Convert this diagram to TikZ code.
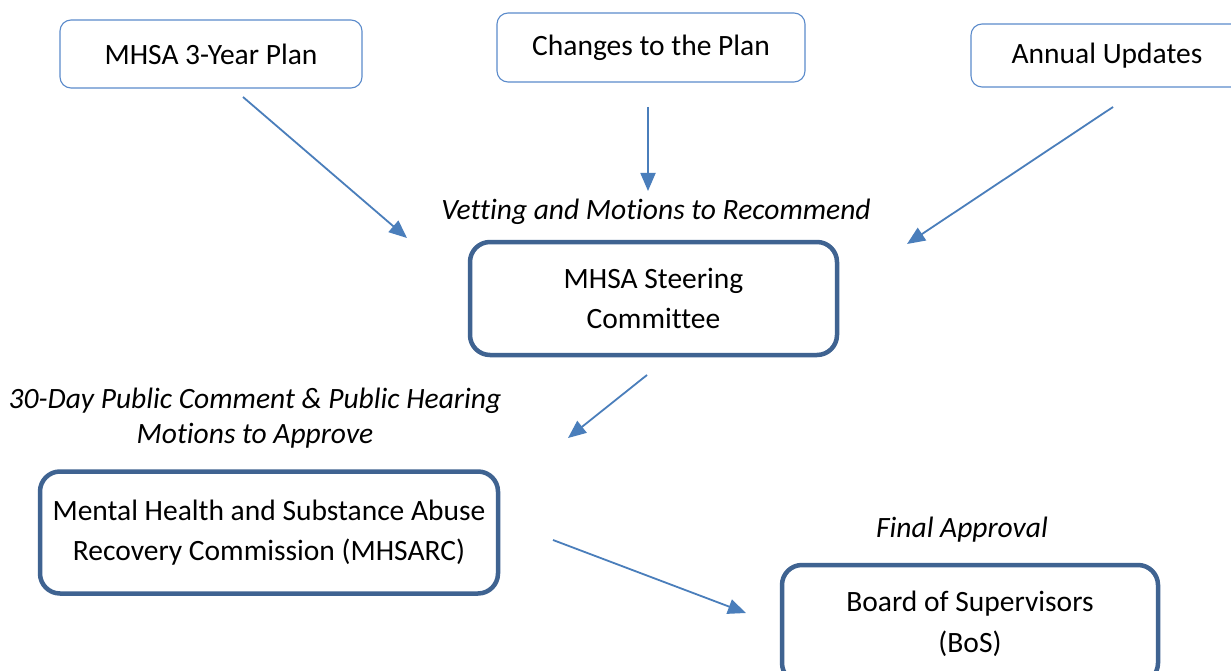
\documentclass[tikz,border=0pt]{standalone}
\usepackage{fontspec}
\setmainfont{Carlito}[Ligatures=NoCommon]
\usetikzlibrary{arrows.meta}
\definecolor{thinblue}{HTML}{5B8BCB}
\definecolor{thickblue}{HTML}{3F6391}
\definecolor{arrowblue}{HTML}{4A7EBB}
\tikzset{
  thinbox/.style={draw=thinblue, line width=1.1pt, rounded corners=11pt, fill=white,
    inner sep=0pt, align=center, font=\fontsize{29.5}{40}\selectfont},
  thickbox/.style={draw=thickblue, line width=4.5pt, rounded corners=20pt, fill=white,
    inner sep=0pt, align=center, font=\fontsize{29.5}{40.5}\selectfont},
  lbl/.style={inner sep=0pt, align=center, font=\fontsize{29.5}{35}\selectfont\itshape},
  conn/.style={draw=arrowblue, line width=1.8pt, -{Triangle[length=18pt,width=15pt]}}
}
\begin{document}
\begin{tikzpicture}[x=1pt,y=-1pt]
\useasboundingbox (0,0) rectangle (1231,671);
\clip (0,0) rectangle (1231,671);
\fill[white] (0,0) rectangle (1231,671);
% top boxes
\node[thinbox, minimum width=302pt, minimum height=68pt] (plan) at (211,54) {MHSA 3-Year Plan};
\node[thinbox, minimum width=308pt, minimum height=69pt] (changes) at (651,47.5) {Changes to the Plan};
\node[thinbox, minimum width=272pt, minimum height=63pt] (annual) at (1107,55.5) {Annual Updates};
% main boxes
\node[thickbox, minimum width=367pt, minimum height=113pt] (steer) at (653.5,298.5) {MHSA Steering\\Committee};
\node[thickbox, minimum width=458pt, minimum height=122pt] (mhsarc) at (269,532.5) {Mental Health and Substance Abuse\\Recovery Commission (MHSARC)};
\node[thickbox, minimum width=376pt, minimum height=118pt] (bos) at (970,624) {Board of Supervisors\\(BoS)};
% labels
\node[lbl] (vet) at (656,212) {Vetting and Motions to Recommend};
\node[lbl] (pub) at (255,418) {30-Day Public Comment \& Public Hearing\\Motions to Approve};
\node[lbl] (fin) at (962,530) {Final Approval};
% connector ends
\coordinate (a1s) at (243,97);  \coordinate (a1e) at (407,238);
\coordinate (a2s) at (648,107); \coordinate (a2e) at (648,191);
\coordinate (a3s) at (1113,107);\coordinate (a3e) at (907,244);
\coordinate (a4s) at (647,375); \coordinate (a4e) at (568,438);
\coordinate (a5s) at (553,540); \coordinate (a5e) at (746,613);
\draw[conn] (a1s) -- (a1e);
\draw[conn] (a2s) -- (a2e);
\draw[conn] (a3s) -- (a3e);
\draw[conn] (a4s) -- (a4e);
\draw[conn] (a5s) -- (a5e);
\end{tikzpicture}
\end{document}
